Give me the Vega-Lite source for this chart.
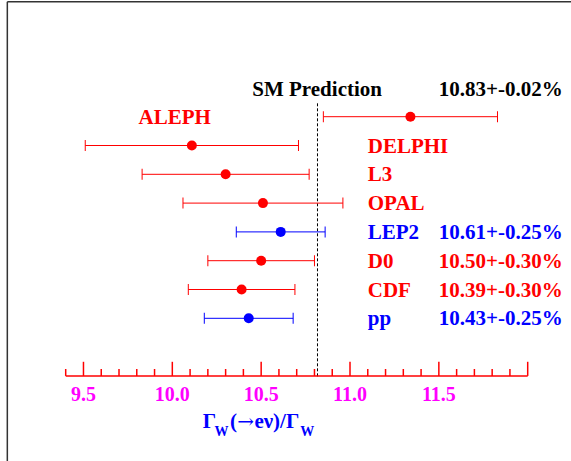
{
  "$schema": "https://vega.github.io/schema/vega-lite/v6.json",
  "width": 571,
  "height": 461,
  "autosize": "none",
  "padding": 0,
  "background": "white",
  "config": {
    "view": {"stroke": null},
    "text": {"font": "Liberation Serif", "fontWeight": "bold", "fontSize": 21, "baseline": "alphabetic"}
  },
  "datasets": {
    "meas": [
      {"exp": "DELPHI", "val": 11.34, "lo": 10.85, "hi": 11.83, "row": 1, "group": "exp"},
      {"exp": "ALEPH", "val": 10.11, "lo": 9.51, "hi": 10.71, "row": 2, "group": "exp"},
      {"exp": "L3", "val": 10.30, "lo": 9.83, "hi": 10.77, "row": 3, "group": "exp"},
      {"exp": "OPAL", "val": 10.51, "lo": 10.06, "hi": 10.96, "row": 4, "group": "exp"},
      {"exp": "LEP2", "val": 10.61, "lo": 10.36, "hi": 10.86, "row": 5, "group": "avg"},
      {"exp": "D0", "val": 10.50, "lo": 10.20, "hi": 10.80, "row": 6, "group": "exp"},
      {"exp": "CDF", "val": 10.39, "lo": 10.09, "hi": 10.69, "row": 7, "group": "exp"},
      {"exp": "pp", "val": 10.43, "lo": 10.18, "hi": 10.68, "row": 8, "group": "avg"}
    ],
    "labels": [
      {"text": "SM Prediction", "x": 10.45, "row": 0.05, "group": "sm"},
      {"text": "10.83+-0.02%", "x": 11.5, "row": 0.05, "group": "sm"},
      {"text": "ALEPH", "x": 9.81, "row": 1, "group": "exp"},
      {"text": "DELPHI", "x": 11.1, "row": 2, "group": "exp"},
      {"text": "L3", "x": 11.1, "row": 3, "group": "exp"},
      {"text": "OPAL", "x": 11.1, "row": 4, "group": "exp"},
      {"text": "LEP2", "x": 11.1, "row": 5, "group": "avg"},
      {"text": "10.61+-0.25%", "x": 11.5, "row": 5, "group": "avg"},
      {"text": "D0", "x": 11.1, "row": 6, "group": "exp"},
      {"text": "10.50+-0.30%", "x": 11.5, "row": 6, "group": "exp"},
      {"text": "CDF", "x": 11.1, "row": 7, "group": "exp"},
      {"text": "10.39+-0.30%", "x": 11.5, "row": 7, "group": "exp"},
      {"text": "pp", "x": 11.1, "row": 8, "group": "avg"},
      {"text": "10.43+-0.25%", "x": 11.5, "row": 8, "group": "avg"}
    ],
    "ticks": [
      {"v": 9.4, "kind": "minor", "label": ""},
      {"v": 9.5, "kind": "major", "label": "9.5"},
      {"v": 9.6, "kind": "minor", "label": ""},
      {"v": 9.7, "kind": "minor", "label": ""},
      {"v": 9.8, "kind": "minor", "label": ""},
      {"v": 9.9, "kind": "minor", "label": ""},
      {"v": 10.0, "kind": "major", "label": "10.0"},
      {"v": 10.1, "kind": "minor", "label": ""},
      {"v": 10.2, "kind": "minor", "label": ""},
      {"v": 10.3, "kind": "minor", "label": ""},
      {"v": 10.4, "kind": "minor", "label": ""},
      {"v": 10.5, "kind": "major", "label": "10.5"},
      {"v": 10.6, "kind": "minor", "label": ""},
      {"v": 10.7, "kind": "minor", "label": ""},
      {"v": 10.8, "kind": "minor", "label": ""},
      {"v": 10.9, "kind": "minor", "label": ""},
      {"v": 11.0, "kind": "major", "label": "11.0"},
      {"v": 11.1, "kind": "minor", "label": ""},
      {"v": 11.2, "kind": "minor", "label": ""},
      {"v": 11.3, "kind": "minor", "label": ""},
      {"v": 11.4, "kind": "minor", "label": ""},
      {"v": 11.5, "kind": "major", "label": "11.5"},
      {"v": 11.6, "kind": "minor", "label": ""},
      {"v": 11.7, "kind": "minor", "label": ""},
      {"v": 11.8, "kind": "minor", "label": ""},
      {"v": 11.9, "kind": "minor", "label": ""},
      {"v": 12.0, "kind": "major", "label": ""}
    ]
  },
  "layer": [
    {
      "data": {"values": [{}]},
      "mark": {"type": "rule", "color": "#333333", "strokeWidth": 1.5},
      "encoding": {
        "x": {"datum": 9.0715, "type": "quantitative", "scale": {"domain": [9.4, 12.0], "range": [65.7, 527.7], "nice": false, "zero": false}, "axis": null},
        "y": {"datum": -2.99, "type": "quantitative", "scale": {"domain": [1, 8], "range": [116.7, 318.3], "nice": false, "zero": false}, "axis": null},
        "y2": {"datum": 13.5}
      }
    },
    {
      "data": {"values": [{}]},
      "mark": {"type": "rule", "color": "#333333", "strokeWidth": 1.5},
      "encoding": {
        "x": {"datum": 9.0715, "type": "quantitative"},
        "x2": {"datum": 12.6},
        "y": {"datum": -2.99, "type": "quantitative"}
      }
    },
    {
      "data": {"values": [{}]},
      "mark": {"type": "rule", "color": "#000000", "strokeWidth": 1, "strokeDash": [3, 2]},
      "encoding": {
        "x": {"datum": 10.817, "type": "quantitative"},
        "y": {"datum": 0.535, "type": "quantitative"},
        "y2": {"datum": 10.05}
      }
    },
    {
      "data": {"name": "meas"},
      "mark": {"type": "rule", "strokeWidth": 1},
      "encoding": {
        "x": {"field": "lo", "type": "quantitative"},
        "x2": {"field": "hi"},
        "y": {"field": "row", "type": "quantitative"},
        "color": {"field": "group", "type": "nominal", "scale": {"domain": ["exp", "avg", "sm"], "range": ["#ff0000", "#0000ff", "#000000"]}, "legend": null}
      }
    },
    {
      "data": {"name": "meas"},
      "mark": {"type": "tick", "orient": "vertical", "size": 11, "thickness": 1, "opacity": 1},
      "encoding": {
        "x": {"field": "lo", "type": "quantitative"},
        "y": {"field": "row", "type": "quantitative"},
        "color": {"field": "group", "type": "nominal", "legend": null}
      }
    },
    {
      "data": {"name": "meas"},
      "mark": {"type": "tick", "orient": "vertical", "size": 11, "thickness": 1, "opacity": 1},
      "encoding": {
        "x": {"field": "hi", "type": "quantitative"},
        "y": {"field": "row", "type": "quantitative"},
        "color": {"field": "group", "type": "nominal", "legend": null}
      }
    },
    {
      "data": {"name": "meas"},
      "mark": {"type": "circle", "size": 100, "opacity": 1},
      "encoding": {
        "x": {"field": "val", "type": "quantitative"},
        "y": {"field": "row", "type": "quantitative"},
        "color": {"field": "group", "type": "nominal", "legend": null}
      }
    },
    {
      "data": {"name": "labels"},
      "mark": {"type": "text", "align": "left", "dy": 7},
      "encoding": {
        "x": {"field": "x", "type": "quantitative"},
        "y": {"field": "row", "type": "quantitative"},
        "text": {"field": "text"},
        "color": {"field": "group", "type": "nominal", "legend": null}
      }
    },
    {
      "data": {"values": [{}]},
      "mark": {"type": "rule", "color": "#ff0000", "strokeWidth": 1.5},
      "encoding": {
        "x": {"datum": 9.4, "type": "quantitative"},
        "x2": {"datum": 12.0},
        "y": {"datum": 10, "type": "quantitative"}
      }
    },
    {
      "data": {"name": "ticks"},
      "transform": [{"filter": "datum.kind == 'minor'"}],
      "mark": {"type": "rule", "color": "#ff0000", "strokeWidth": 1.5},
      "encoding": {
        "x": {"field": "v", "type": "quantitative"},
        "y": {"datum": 10, "type": "quantitative"},
        "y2": {"datum": 9.76}
      }
    },
    {
      "data": {"name": "ticks"},
      "transform": [{"filter": "datum.kind == 'major'"}],
      "mark": {"type": "rule", "color": "#ff0000", "strokeWidth": 1.5},
      "encoding": {
        "x": {"field": "v", "type": "quantitative"},
        "y": {"datum": 10, "type": "quantitative"},
        "y2": {"datum": 9.51}
      }
    },
    {
      "data": {"name": "ticks"},
      "transform": [{"filter": "datum.label != ''"}],
      "mark": {"type": "text", "align": "center", "color": "#ff00ff", "fontSize": 20},
      "encoding": {
        "x": {"field": "v", "type": "quantitative"},
        "y": {"datum": 10.87, "type": "quantitative"},
        "text": {"field": "label"}
      }
    },
    {
      "data": {"values": [{}]},
      "mark": {"type": "text", "align": "left", "color": "#0000ff", "fontSize": 21},
      "encoding": {
        "x": {"datum": 10.171, "type": "quantitative"},
        "y": {"datum": 11.82, "type": "quantitative"},
        "text": {"value": "Γ"}
      }
    },
    {
      "data": {"values": [{}]},
      "mark": {"type": "text", "align": "left", "color": "#0000ff", "fontSize": 14},
      "encoding": {
        "x": {"datum": 10.238, "type": "quantitative"},
        "y": {"datum": 12.09, "type": "quantitative"},
        "text": {"value": "W"}
      }
    },
    {
      "data": {"values": [{}]},
      "mark": {"type": "text", "align": "left", "color": "#0000ff", "fontSize": 21},
      "encoding": {
        "x": {"datum": 10.325, "type": "quantitative"},
        "y": {"datum": 11.82, "type": "quantitative"},
        "text": {"value": "("}
      }
    },
    {
      "data": {"values": [{}]},
      "mark": {"type": "text", "align": "left", "color": "#0000ff", "fontSize": 20, "font": "DejaVu Serif", "fontWeight": "normal"},
      "encoding": {
        "x": {"datum": 10.366, "type": "quantitative"},
        "y": {"datum": 11.82, "type": "quantitative"},
        "text": {"value": "→"}
      }
    },
    {
      "data": {"values": [{}]},
      "mark": {"type": "text", "align": "left", "color": "#0000ff", "fontSize": 21},
      "encoding": {
        "x": {"datum": 10.462, "type": "quantitative"},
        "y": {"datum": 11.82, "type": "quantitative"},
        "text": {"value": "eν)/Γ"}
      }
    },
    {
      "data": {"values": [{}]},
      "mark": {"type": "text", "align": "left", "color": "#0000ff", "fontSize": 14},
      "encoding": {
        "x": {"datum": 10.72, "type": "quantitative"},
        "y": {"datum": 12.09, "type": "quantitative"},
        "text": {"value": "W"}
      }
    }
  ]
}
